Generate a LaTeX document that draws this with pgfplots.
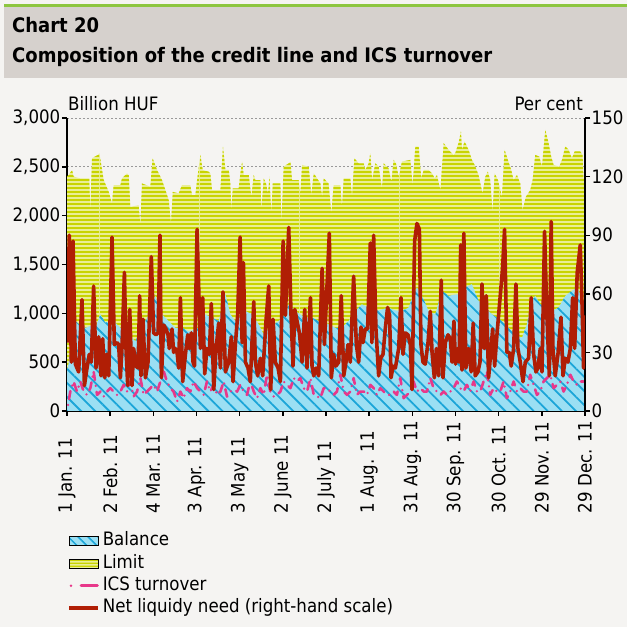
\documentclass[border=0pt]{standalone}
\usepackage{fontspec}
\setmainfont{DejaVu Sans Condensed}
\usepackage{pgfplots}
\pgfplotsset{compat=1.18}
\usetikzlibrary{patterns,patterns.meta}
\definecolor{panel}{RGB}{245,244,242}
\definecolor{band}{RGB}{214,209,205}
\definecolor{topgreen}{RGB}{141,198,63}
\definecolor{balfill}{RGB}{155,223,243}
\definecolor{balline}{RGB}{27,165,216}
\definecolor{limpale}{RGB}{233,238,150}
\definecolor{limdark}{RGB}{200,212,0}
\definecolor{icspink}{RGB}{232,56,138}
\definecolor{netred}{RGB}{176,30,5}
\newcommand{\fs}{\fontsize{18.5}{22}\selectfont}
\newcommand{\xl}[1]{\makebox[97pt][l]{#1}}
\pgfdeclarepatternformonly{hstripes}{\pgfpointorigin}{\pgfqpoint{100pt}{4.2pt}}{\pgfqpoint{100pt}{4.2pt}}{\pgfpathrectangle{\pgfpointorigin}{\pgfqpoint{100pt}{2.2pt}}\pgfusepath{fill}}
\pgfdeclarepatternformonly{hstripesS}{\pgfpointorigin}{\pgfqpoint{100pt}{3pt}}{\pgfqpoint{100pt}{3pt}}{\pgfpathrectangle{\pgfpointorigin}{\pgfqpoint{100pt}{1.6pt}}\pgfusepath{fill}}

\pgfplotstableread{
x y
0 2399
1.2 2416
3.5 2468
4.6 2399
9.3 2382
15.5 2382
16.2 2021
16.9 2382
17.4 2588
21.5 2622
22.5 2640
25.5 2365
29.0 2244
31.3 2124
32.4 2313
37.1 2313
38.2 2382
41.7 2433
42.9 2416
44.0 2090
49.8 2107
51.0 1901
52.1 2330
57.9 2296
59.5 2588
62.6 2468
66.0 2365
68.8 2244
70.7 2158
72.3 1918
73.5 2244
77.6 2227
79.9 2313
85.7 2313
86.9 2210
89.2 2210
90.4 2365
92.7 2622
94.3 2468
98.5 2450
99.6 2433
100.8 2261
106.6 2261
108.4 2708
110.1 2468
112.4 2468
113.5 2330
114.2 2055
115.2 2279
119.3 2279
120.5 2433
121.7 2554
122.8 2416
126.3 2416
128.1 2193
129.8 2416
130.9 2365
134.4 2365
135.1 2055
136.7 2382
138.3 2330
139.7 2227
140.7 2399
142.0 2021
143.0 2330
148.3 2330
149.0 1918
150.6 2502
154.1 2536
155.3 2554
156.4 2365
161.0 2365
162.2 2227
163.4 2519
168.0 2502
169.8 2210
171.5 2433
173.8 2382
176.1 2330
177.3 2193
178.4 2382
179.5 2365
181.8 2330
183.7 2021
185.3 2313
190.0 2313
191.1 2090
192.3 2382
196.9 2382
198.1 2193
199.7 2588
202.7 2536
206.2 2536
207.3 2468
209.6 2536
210.8 2640
212.0 2365
214.3 2536
216.6 2502
218.9 2279
220.1 2536
223.5 2485
225.4 2347
227.0 2571
228.6 2536
230.5 2399
232.8 2554
238.6 2571
240.2 2313
242.1 2708
244.4 2708
246.2 2382
247.9 2468
251.3 2468
253.7 2433
255.5 2382
257.1 2416
259.5 2261
261.8 2743
265.2 2674
268.7 2622
269.8 2640
272.1 2743
273.8 2863
274.5 2674
276.3 2760
279.1 2674
281.4 2571
283.3 2519
286.0 2416
288.8 2227
290.7 2399
292.5 2450
294.1 2365
295.8 2038
297.2 2433
299.5 2365
302.3 2193
304.1 2674
306.4 2571
308.7 2468
310.4 2365
312.7 2416
315.0 2330
316.6 2055
318.9 2193
321.9 2261
323.6 2365
325.4 2622
328.2 2605
330.1 2502
332.4 2880
334.7 2743
336.5 2605
338.2 2519
342.1 2502
344.0 2571
346.3 2708
348.6 2674
350.9 2588
352.8 2657
356.7 2657
358.3 2622
359.0 2365
360.0 2433
}\limit

\pgfplotstableread{
x y
0 420
1.2 491
3.5 760
5.8 921
9.0 880
12.8 852
16.0 870
19.7 852
23.2 990
26.6 904
30.0 920
33.6 904
38.2 835
42.9 784
47.5 715
52.1 852
56.8 990
61.4 1179
66.0 990
70.7 921
75.3 852
79.9 852
84.6 818
88.0 830
91.5 852
96.2 990
100.8 955
105.4 921
110.1 1196
113.5 990
117.0 921
124.0 1024
128.6 990
133.2 887
136.7 784
141.3 852
147.1 921
151.8 990
154.1 1093
158.7 1024
165.7 955
170.3 955
174.9 921
178.0 921
181.8 887
186.5 852
191.1 852
195.7 921
200.4 1024
205.0 1093
209.6 1059
214.3 1024
219.0 1040
223.5 1059
228.0 1030
232.8 1024
237.4 1059
240.9 1196
243.2 1265
246.7 1179
251.3 1024
256.0 990
260.6 1230
265.2 1179
268.7 1190
272.1 1196
276.8 1265
281.4 1299
286.0 1127
290.7 1059
295.3 990
302.3 921
306.9 852
311.5 784
316.2 749
319.6 887
323.1 1127
325.4 1179
328.9 1093
332.4 1059
337.0 1024
341.6 1059
346.3 1179
350.9 1230
354.4 1265
356.7 1196
360.0 1059
}\balance

\pgfplotstableread{
x y
0.7 62
2.3 199
4.6 302
6.9 199
9.3 302
11.6 199
13.9 165
16.2 234
18.5 406
20.9 165
23.2 199
25.5 148
27.8 199
30.1 234
32.4 199
34.8 165
37.1 199
39.4 268
41.7 199
44.0 302
46.3 148
48.7 199
51.0 337
53.3 165
55.6 199
57.9 234
60.2 268
62.6 199
64.9 302
67.2 406
69.5 302
71.8 234
74.1 199
76.5 96
78.8 199
81.1 131
83.4 234
85.7 199
88.0 302
90.4 234
92.7 199
95.0 165
97.3 302
99.6 199
102.0 268
104.3 165
106.6 199
108.9 302
111.2 148
113.5 199
115.9 217
118.2 199
120.5 268
122.8 199
125.1 165
127.4 302
129.8 199
132.1 131
134.4 234
136.7 165
139.0 371
141.3 199
143.7 148
146.0 165
148.3 199
150.6 302
152.9 268
155.3 234
157.6 337
159.9 302
162.2 337
164.5 234
166.8 199
169.2 337
171.5 165
173.8 148
176.1 131
178.4 234
180.7 234
183.0 199
185.3 165
187.6 199
190.0 371
192.3 199
194.6 165
196.9 199
199.2 337
201.5 165
203.8 199
206.2 199
208.5 165
210.8 268
213.1 234
215.4 165
217.7 234
220.1 199
222.4 165
224.7 165
227.0 199
229.3 165
231.6 337
234.0 131
236.3 165
238.6 199
240.9 302
243.2 199
245.6 234
247.9 199
250.2 199
252.5 337
254.8 234
257.1 199
259.5 165
261.8 199
264.1 165
266.4 199
268.7 234
271.0 302
273.3 234
275.6 199
277.9 268
280.2 199
282.6 302
284.9 199
287.2 199
289.5 302
291.8 406
294.1 165
296.5 234
298.8 199
301.1 199
303.4 302
305.7 131
308.0 199
310.4 302
312.7 199
315.0 234
317.3 199
319.6 199
321.9 371
324.3 268
326.6 165
328.9 199
331.2 302
333.5 337
335.8 371
338.2 234
340.5 268
342.8 302
345.1 199
347.4 268
349.8 371
352.1 302
354.4 268
356.7 302
359.0 302
}\ics

\pgfplotstableread{
x y
0 35
1.6 90
3.0 25
4.2 87
5.8 24
8.1 20
10.4 57
12.1 13
13.9 22
15.5 29
16.9 25
18.5 64
20.2 22
22.0 38
23.6 18
24.8 37
26.2 17
27.3 29
29.0 18
31.3 89
32.9 34
34.8 35
35.9 34
37.1 17
38.2 32
39.9 71
41.0 32
42.2 13
43.6 52
45.2 13
46.3 32
48.0 23
49.4 22
50.5 59
51.4 18
52.8 47
54.5 17
56.3 25
58.6 79
60.2 40
61.9 39
63.3 40
64.6 90
65.6 17
67.2 44
68.8 42
70.2 39
71.1 32
73.0 42
74.1 30
75.3 32
76.5 30
77.6 22
78.8 58
80.4 15
82.3 29
83.9 39
85.0 32
86.4 40
87.6 25
88.6 23
90.4 93
92.7 32
94.3 58
95.7 19
97.3 32
98.9 29
100.3 55
102.0 11
103.6 32
105.4 45
106.6 22
108.4 61
110.1 20
112.4 25
114.2 38
115.4 15
117.0 34
118.6 49
120.3 89
121.7 35
122.6 76
124.0 25
125.8 22
127.4 15
129.8 56
130.9 25
132.5 18
134.4 27
136.0 18
138.3 46
140.2 64
141.6 11
143.2 47
144.8 25
146.7 22
148.3 15
150.2 87
151.8 49
154.1 94
155.7 49
157.1 23
158.3 52
159.9 46
161.5 40
163.4 25
165.2 52
166.8 22
169.2 58
170.3 23
171.5 18
173.1 22
174.9 18
177.3 73
178.9 34
182.3 91
183.7 17
185.3 29
186.9 23
188.8 25
190.6 59
192.3 18
193.9 25
195.3 34
196.9 25
199.2 69
201.1 34
202.7 25
204.3 43
205.7 35
207.3 42
208.9 42
210.8 86
211.9 35
213.1 90
214.7 42
216.6 18
218.0 27
219.6 29
221.2 42
222.8 53
224.2 49
225.2 17
226.6 23
228.2 22
230.5 32
232.1 58
233.5 29
235.1 40
237.0 39
238.6 34
239.8 11
241.6 87
243.2 96
244.9 93
246.0 34
247.4 25
249.0 24
250.9 35
252.5 51
253.7 30
255.3 17
256.7 32
258.3 18
260.1 67
261.3 17
262.9 35
264.8 39
266.4 37
267.6 25
268.9 46
270.0 24
271.5 32
272.5 25
273.6 85
274.5 21
275.8 91
277.2 22
279.1 32
280.9 20
282.3 45
283.7 18
285.6 20
287.0 25
288.4 65
290.0 32
291.4 59
293.0 17
294.4 29
295.8 42
297.2 23
298.8 39
301.1 59
302.7 73
304.1 93
305.7 30
307.4 30
308.7 23
310.4 32
312.0 65
313.4 32
315.0 25
316.9 15
318.5 25
320.8 27
322.6 58
324.3 29
325.9 20
327.3 22
328.9 32
330.1 20
331.9 92
333.5 49
335.2 18
336.5 97
337.7 32
339.3 18
341.2 29
343.3 48
344.7 18
346.3 27
348.1 25
349.8 32
351.4 58
352.8 32
354.6 71
356.7 85
357.9 56
359.0 22
360.0 49
}\netneed

\begin{document}
\begin{tikzpicture}
\useasboundingbox (0,0) rectangle (627pt,627pt);
\fill[panel] (0,0) rectangle (627pt,627pt);
\fill[band] (4pt,549pt) rectangle (627pt,620.3pt);
\fill[topgreen] (4pt,620.3pt) rectangle (627pt,623.3pt);
\node[anchor=base west, inner sep=0pt, font=\bfseries\fontsize{20}{24}\selectfont] at (12pt,594pt) {Chart 20};
\node[anchor=base west, inner sep=0pt, font=\bfseries\fontsize{20}{24}\selectfont] at (12pt,564pt) {Composition of the credit line and ICS turnover};
\node[anchor=base west, inner sep=0pt, font=\fs] at (68pt,516pt) {Billion HUF};
\node[anchor=base east, inner sep=0pt, font=\fs] at (583pt,516pt) {Per cent};

\begin{axis}[
  at={(67pt,216pt)}, anchor=south west,
  scale only axis, width=518pt, height=293pt,
  xmin=0, xmax=360, ymin=0, ymax=3000,
  axis x line*=bottom, axis y line*=left,
  axis line style={black, line width=1.8pt, -},
  xtick={0,30,...,360},
  xticklabels={\xl{1 Jan. 11},\xl{2 Feb. 11},\xl{4 Mar. 11},\xl{3 Apr. 11},\xl{3 May 11},\xl{2 June 11},\xl{2 July 11},\xl{1 Aug. 11},\xl{31 Aug. 11},\xl{30 Sep. 11},\xl{30 Oct. 11},\xl{29 Nov. 11},\xl{29 Dec. 11}},
  ytick={0,500,...,3000},
  yticklabels={0,500,{1,000},{1,500},{2,000},{2,500},{3,000}},
  tick align=outside, major tick length=5pt,
  major tick style={black, line width=1.4pt},
  ymajorgrids, major grid style={gray!80, line width=0.9pt, dash pattern=on 1.5pt off 2.5pt},
  ticklabel style={font=\fs},
  yticklabel style={inner sep=1.5pt},
  xticklabel style={rotate=90, anchor=east, inner sep=0pt},
]
\addplot[draw=none, fill=limpale, postaction={pattern=hstripes, pattern color=limdark}] table {\limit} \closedcycle;
\addplot[draw=none, fill=balfill, postaction={pattern={Lines[angle=-45,distance=10pt,line width=1.8pt]}, pattern color=balline}] table {\balance} \closedcycle;
\addplot[icspink, line width=2.6pt, line cap=round, line join=round, dash pattern=on 0pt off 6pt on 8pt off 6pt] table {\ics};
\end{axis}

\begin{axis}[
  at={(67pt,216pt)}, anchor=south west,
  scale only axis, width=518pt, height=293pt,
  xmin=0, xmax=360, ymin=0, ymax=150,
  axis x line=none, axis y line*=right,
  axis line style={black, line width=1.8pt, -},
  ytick={0,30,...,150},
  yticklabels={0,30,60,90,120,150},
  tick align=outside, major tick length=5pt,
  major tick style={black, line width=1.4pt},
  yticklabel style={font=\fs, inner sep=1.5pt},
  legend cell align=left,
  legend image code/.code={\draw[#1] (0pt,0pt) -- (29pt,0pt);},
  legend style={at={(0,-0.412)}, anchor=north west, draw=none, fill=none, font=\fs, inner sep=0pt, row sep=3.9pt,
    nodes={inner sep=0pt, text height=14pt, text depth=4.4pt},
    /tikz/every odd column/.append style={column sep=3pt}},
]
\addlegendimage{legend image code/.code={\draw[black, line width=0.8pt, fill=balfill, postaction={pattern={Lines[angle=-45,distance=7pt,line width=1.5pt]}, pattern color=balline}] (0pt,-4.5pt) rectangle (29pt,4.5pt);}}
\addlegendentry{Balance}
\addlegendimage{legend image code/.code={\draw[black, line width=0.8pt, fill=limpale, postaction={pattern=hstripesS, pattern color=limdark}] (0pt,-4.5pt) rectangle (29pt,4.5pt);}}
\addlegendentry{Limit}
\addlegendimage{legend image code/.code={\draw[icspink, line width=2.8pt, line cap=round, dash pattern=on 0pt off 10pt on 16.5pt off 20pt] (2pt,0pt) -- (29pt,0pt);}}
\addlegendentry{ICS turnover}
\addplot[netred, line width=3.6pt, line join=round] table {\netneed};
\addlegendentry{Net liquidy need (right-hand scale)}
\end{axis}
\end{tikzpicture}
\end{document}
